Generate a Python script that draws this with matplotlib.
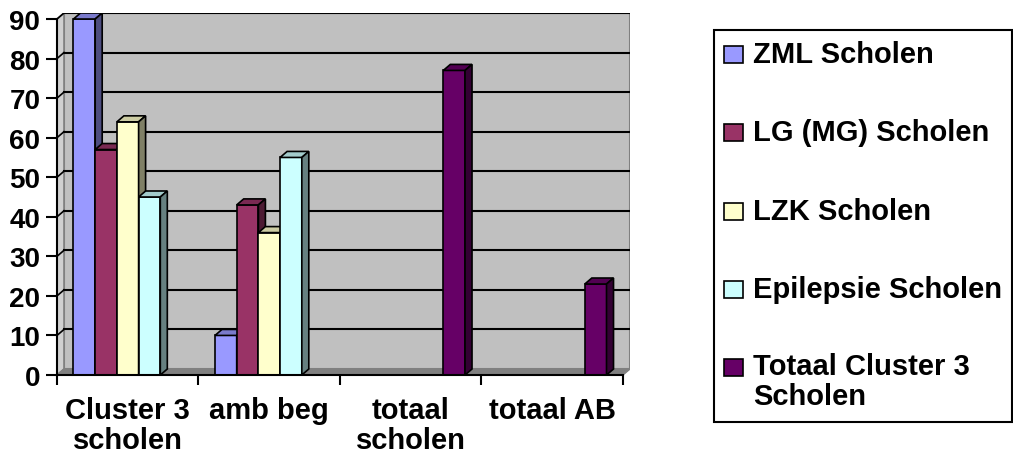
import numpy as np
import matplotlib
matplotlib.use('Agg')
import matplotlib.pyplot as plt
from matplotlib.patches import Polygon, Rectangle

plt.rcParams['font.family'] = ['Liberation Sans', 'DejaVu Sans']
plt.rcParams['font.weight'] = 'bold'

# data
categories = ['Cluster 3\nscholen', 'amb beg', 'totaal\nscholen', 'totaal AB']
series = ['ZML Scholen', 'LG (MG) Scholen', 'LZK Scholen', 'Epilepsie Scholen',
          'Totaal Cluster 3\nScholen']
zml = [90, 10, 0, 0]
lg = [57, 43, 0, 0]
lzk = [64, 36, 0, 0]
epi = [45, 55, 0, 0]
totaal = [0, 0, 77, 23]
values = [zml, lg, lzk, epi, totaal]
colors = ['#9999FF', '#993366', '#FFFFCC', '#CCFFFF', '#660066']


def shade(c, f):
    r, g, b = matplotlib.colors.to_rgb(c)
    return (r * f, g * f, b * f)


fig = plt.figure(figsize=(10.13, 4.64), dpi=100)
ax = fig.add_axes([57 / 1013, 88 / 464, 573 / 1013, 362 / 464])
ax.patch.set_visible(False)

dx = 0.0495   # depth in x (category units)
dy = 1.52     # depth in y (value units)
x0, x1 = -0.5, len(categories) - 0.5
ymax = 90
ax.set_xlim(x0, x1 + dx)
ax.set_ylim(0, ymax + dy)

# walls
ax.add_patch(Rectangle((x0 + dx, dy), x1 - x0, ymax, facecolor='#C0C0C0',
                       edgecolor='#808080', lw=1.5, zorder=0))
ax.add_patch(Polygon([(x0, 0), (x0, ymax), (x0 + dx, ymax + dy), (x0 + dx, dy)],
                     closed=True, facecolor='#D0D0D0', edgecolor='#808080',
                     lw=1.2, zorder=0))
ax.add_patch(Polygon([(x0, 0), (x1, 0), (x1 + dx, dy), (x0 + dx, dy)],
                     closed=True, facecolor='#808080', edgecolor='#808080',
                     lw=1, zorder=0))

# gridlines on back wall and side wall
for v in range(10, ymax + 1, 10):
    ax.plot([x0 + dx, x1 + dx], [v + dy, v + dy], color='black', lw=1.5, zorder=1)
    ax.plot([x0, x0 + dx], [v, v + dy], color='black', lw=1.2, zorder=1)

# bars with 3D faces
n = len(series)
w = 0.1534
x = np.arange(len(categories))
for i in range(n):
    for j in range(len(categories)):
        h = values[i][j]
        if h == 0:
            continue
        left = x[j] + (i - (n - 1) / 2) * w - w / 2
        right = left + w
        z = 2 + j * 10 + i
        ax.bar(left, h, w, align='edge', color=colors[i], edgecolor='black',
               lw=1.2, zorder=z)
        ax.add_patch(Polygon([(left, h), (left + dx, h + dy), (right + dx, h + dy),
                              (right, h)], closed=True,
                             facecolor=shade(colors[i], 0.8), edgecolor='black',
                             lw=1.2, zorder=z))
        ax.add_patch(Polygon([(right, 0), (right, h), (right + dx, h + dy),
                              (right + dx, dy)], closed=True,
                             facecolor=shade(colors[i], 0.5), edgecolor='black',
                             lw=1.2, zorder=z))

# axes
for s in ['top', 'right']:
    ax.spines[s].set_visible(False)
ax.spines['left'].set_bounds(0, ymax)
ax.spines['bottom'].set_bounds(x0, x1)
ax.spines['left'].set_linewidth(1.5)
ax.spines['bottom'].set_linewidth(1.5)
ax.spines['left'].set_zorder(50)
ax.spines['bottom'].set_zorder(50)

ax.set_yticks(range(0, ymax + 1, 10))
ax.tick_params(axis='y', length=8, width=1.5, pad=4, labelsize=20)
ax.set_xticks(np.arange(x0, x1 + 0.01, 1.0))
ax.set_xticklabels([])
ax.tick_params(axis='x', which='major', length=7, width=1.5)
ax.set_xticks(x, minor=True)
ax.set_xticklabels(categories, minor=True, fontsize=21, linespacing=1.1)
ax.tick_params(axis='x', which='minor', length=0, pad=15)
for t in ax.get_yticklabels() + ax.get_xticklabels(minor=True):
    t.set_fontweight('bold')

# legend drawn on figure
fig.patches.append(Rectangle((714, 41), 298, 392, transform=None,
                             facecolor='white', edgecolor='black', lw=1.5,
                             figure=fig))
ys = [55, 133, 212, 290, 368]
for i, name in enumerate(series):
    yy = 464 - ys[i]
    fig.patches.append(Rectangle((724, yy - 8.5), 19, 17, transform=None,
                                 facecolor=colors[i], edgecolor='black', lw=1.2,
                                 figure=fig))
    if '\n' in name:
        fig.text(753 / 1013, (yy + 15) / 464, name, fontsize=21, fontweight='bold',
                 va='top', ha='left', linespacing=1.1)
    else:
        fig.text(753 / 1013, yy / 464, name, fontsize=21, fontweight='bold',
                 va='center', ha='left')

fig.savefig('out.png', dpi=100)
